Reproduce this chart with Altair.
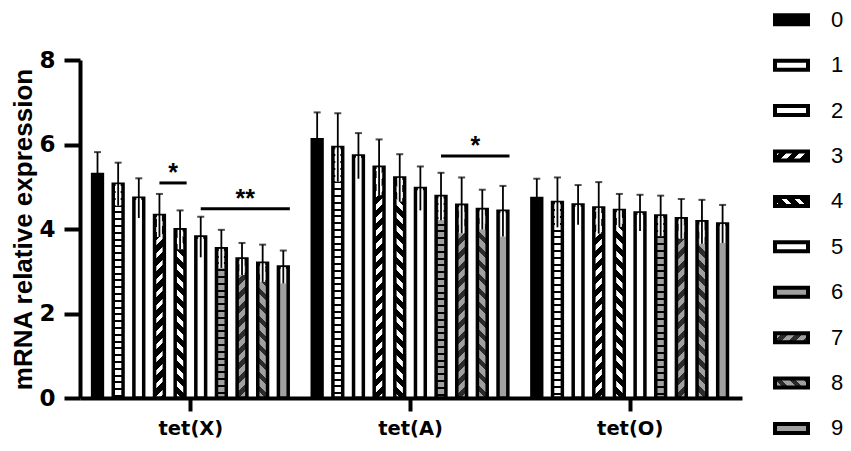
import math
import altair as alt
import pandas as pd

# ---------------- data ----------------
groups = ["tet(X)", "tet(A)", "tet(O)"]
series = ["0", "1", "2", "3", "4", "5", "6", "7", "8", "9"]

mean_tetX = [5.29, 5.06, 4.73, 4.32, 3.98, 3.81, 3.53, 3.29, 3.19, 3.10]
sd_tetX = [0.53, 0.51, 0.47, 0.51, 0.46, 0.48, 0.45, 0.38, 0.44, 0.39]
mean_tetA = [6.11, 5.93, 5.73, 5.46, 5.21, 4.96, 4.77, 4.56, 4.46, 4.42]
sd_tetA = [0.65, 0.81, 0.54, 0.66, 0.56, 0.52, 0.56, 0.66, 0.47, 0.60]
mean_tetO = [4.72, 4.63, 4.57, 4.50, 4.44, 4.38, 4.31, 4.24, 4.17, 4.12]
sd_tetO = [0.47, 0.59, 0.47, 0.61, 0.39, 0.43, 0.48, 0.47, 0.52, 0.45]

sig_group = ["tet(X)", "tet(X)", "tet(A)"]
sig_first = [3, 5, 6]
sig_last = [4, 9, 9]
sig_level = [5.09, 4.48, 5.73]
sig_text = ["*", "**", "*"]

y_ticks = [0, 2, 4, 6, 8]
y_title = "mRNA relative expression"

means = [mean_tetX, mean_tetA, mean_tetO]
sds = [sd_tetX, sd_tetA, sd_tetO]

# ---------------- layout / style ----------------
PLOT_W, PLOT_H = 662, 338
Y_MAX = 8
SLOT_PX = 20.96
GROUP_PITCH = 10.64
X_MIN = -0.606
X_MAX = X_MIN + PLOT_W / SLOT_PX
BAR_W = 9.8
BAR_STROKE = 3.5
HALF_BAR = (BAR_W + BAR_STROKE) / 2 / SLOT_PX
LADDER_PERIOD = 6.8
LADDER_LINE = 2.0
GRAY = "#a0a0a0"
DARK = "#2b2b2b"

patterns = [
    ("solid", "#000000"),
    ("ladder", "#ffffff"),
    ("solid", "#ffffff"),
    ("slash", "#ffffff", "#000000", 13.0, 0.45),
    ("backslash", "#ffffff", "#000000", 13.0, 0.45),
    ("solid", "#ffffff"),
    ("ladder", GRAY),
    ("slash", GRAY, DARK, 14.0, 0.55),
    ("backslash", GRAY, DARK, 14.0, 0.55),
    ("solid", GRAY),
]


def stops_for(n, frac, c1, c2):
    out = []
    k = 0
    while k / n < 1:
        a = k / n
        b = min((k + frac) / n, 1.0)
        c = min((k + 1) / n, 1.0)
        out += [(a, c1), (b, c1), (b, c2), (c, c2)]
        k += 1
    return [{"offset": round(o, 5), "color": col} for o, col in out]


def fill_for(pat, W, H, legend=False):
    kind = pat[0]
    if kind == "solid":
        return pat[1]
    if kind == "ladder":
        if legend:
            return pat[1]
        n = H / LADDER_PERIOD
        return {"gradient": "linear", "x1": 0, "y1": 0, "x2": 0, "y2": 1,
                "stops": stops_for(n, LADDER_LINE / LADDER_PERIOD, "#000000", pat[1])}
    stripe, bg, period, frac = pat[1:]
    m = 1.0
    n = (m * W + H) / period
    if kind == "slash":
        gx, gy = m / H, 1 / W
        sx, sy, cx, cy = 0, 0, 1, 1
    else:
        gx, gy = m / H, -1 / W
        sx, sy, cx, cy = 0, 1, 1, -1
    norm = math.hypot(gx, gy)
    gx, gy = gx / norm, gy / norm
    L = cx * gx + cy * gy
    return {"gradient": "linear", "x1": sx, "y1": sy,
            "x2": round(sx + L * gx, 5), "y2": round(sy + L * gy, 5),
            "stops": stops_for(n, frac, stripe, bg)}


group_centers = [gi * GROUP_PITCH + 4.5 for gi in range(len(groups))]
label_expr = "'" + groups[-1] + "'"
for gi in range(len(groups) - 2, -1, -1):
    thr = (group_centers[gi] + group_centers[gi + 1]) / 2
    label_expr = f"datum.value < {thr:.3f} ? '{groups[gi]}' : ({label_expr})"

x_scale = alt.Scale(domain=[X_MIN, X_MAX], nice=False, zero=False)
y_scale = alt.Scale(domain=[0, Y_MAX], nice=False, zero=True)

x_axis = alt.Axis(values=group_centers, labelExpr=label_expr, title=None, grid=False,
                  tickSize=13, tickWidth=4, domainWidth=4, labelFont="DejaVu Sans",
                  labelFontWeight="bold", labelFontSize=19.5, labelPadding=8,
                  labelFlush=False, labelOverlap=False)
y_axis = alt.Axis(values=y_ticks, title=y_title, grid=False, tickSize=16, tickWidth=4,
                  domainWidth=4, labelFont="DejaVu Sans", labelFontWeight="bold",
                  labelFontSize=23, labelPadding=9, labelFlush=False,
                  titleFont="Liberation Sans", titleFontSize=26, titleFontWeight="bold",
                  titlePadding=2)


def X(field):
    return alt.X(field, type="quantitative", scale=x_scale, axis=x_axis)


def Y(field):
    return alt.Y(field, type="quantitative", scale=y_scale, axis=y_axis)


# ---------------- bars ----------------
bar_layers = []
rows = []
for gi, g in enumerate(groups):
    for si, s in enumerate(series):
        mval = means[gi][si]
        sd = sds[gi][si]
        pos = gi * GROUP_PITCH + si
        rows.append({"group": g, "series": s, "s": si, "pos": pos, "mean": mval,
                     "lo": mval - sd, "hi": mval + sd})
        H = mval * PLOT_H / Y_MAX
        df = pd.DataFrame({"pos": [pos], "mean": [mval], "group": [g], "series": [s]})
        bar_layers.append(
            alt.Chart(df).mark_bar(width=BAR_W, fill=fill_for(patterns[si], BAR_W, H),
                                   stroke="black", strokeWidth=BAR_STROKE)
            .encode(x=X("pos"), y=Y("mean"))
        )

err = pd.DataFrame(rows)
halo = alt.Chart(err).transform_filter("datum.s > 0").mark_rule(
    color="white", strokeWidth=5).encode(x=X("pos"), y=Y("lo"), y2="mean")
whisk = alt.Chart(err).mark_rule(color="black", strokeWidth=1.8).encode(
    x=X("pos"), y=Y("lo"), y2="hi")
caps = alt.Chart(err).mark_tick(orient="horizontal", size=7, thickness=2, color="black").encode(
    x=X("pos"), y=Y("hi"))

# ---------------- significance ----------------
sig_rows = []
for g, a, b, lvl, t in zip(sig_group, sig_first, sig_last, sig_level, sig_text):
    gi = groups.index(g)
    x1 = gi * GROUP_PITCH + a
    x2 = gi * GROUP_PITCH + b + HALF_BAR
    sig_rows.append({"x1": x1, "x2": x2, "xm": (x1 + x2) / 2, "y": lvl, "label": t})
sig = pd.DataFrame(sig_rows)
sig_rule = alt.Chart(sig).mark_rule(color="black", strokeWidth=3).encode(
    x=X("x1"), x2="x2", y=Y("y"))
sig_lab = alt.Chart(sig).mark_text(font="Liberation Sans", fontSize=25, fontWeight="bold",
                                   baseline="alphabetic", dy=-2, color="black").encode(
    x=X("xm"), y=Y("y"), text="label:N")

main = alt.layer(*bar_layers, halo, whisk, caps, sig_rule, sig_lab)

# ---------------- legend ----------------
LEG_W, LEG_H = 33, 9
leg_scale = alt.Scale(type="band", domain=series, range=[-63.0, 391.2],
                      paddingInner=0.802, paddingOuter=0.401)
leg_layers = []
for si, s in enumerate(series):
    leg_layers.append(
        alt.Chart(pd.DataFrame({"lab": [s]})).mark_rect(
            fill=fill_for(patterns[si], LEG_W, LEG_H, legend=True), stroke="black",
            strokeWidth=4).encode(x=alt.value(695), x2=alt.value(728),
                                  y=alt.Y("lab:N", scale=leg_scale, axis=None))
    )
leg_text = alt.Chart(pd.DataFrame({"lab": series})).mark_text(
    font="Liberation Sans", fontSize=22, align="center", baseline="middle", color="black"
).encode(x=alt.value(757), y=alt.Y("lab:N", scale=leg_scale, axis=None), text="lab:N")
legend = alt.layer(*leg_layers, leg_text)

chart = (
    alt.layer(main, legend)
    .resolve_scale(y="independent")
    .properties(width=PLOT_W, height=PLOT_H,
                autosize=alt.AutoSizeParams(type="none"),
                padding={"left": 72, "top": 52, "right": 101, "bottom": 46})
    .configure_view(stroke=None)
    .configure_axis(domainColor="black", tickColor="black", labelColor="black",
                    titleColor="black")
)

chart.save("out.html", embed_options={"renderer": "svg", "actions": False})
